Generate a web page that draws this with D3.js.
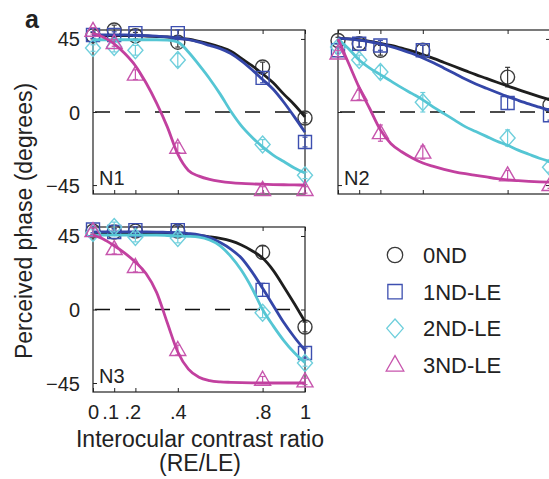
<!DOCTYPE html>
<html><head><meta charset="utf-8">
<script src="https://cdn.jsdelivr.net/npm/d3@7"></script>
<style>
body{margin:0;background:#fff}
svg{display:block}
text{font-family:"Liberation Sans",Arial,Helvetica,sans-serif;fill:#222}
</style>
</head><body>
<svg id="chart" width="549" height="479"></svg>
<script>
// ---------- DATA ----------
const seriesNames = ["0ND", "1ND-LE", "2ND-LE", "3ND-LE"];
const xValues = [0, 0.1, 0.2, 0.4, 0.8, 1];
const fitX = [0,0.05,0.1,0.15,0.2,0.25,0.3,0.35,0.4,0.45,0.5,0.55,0.6,0.65,0.7,0.75,0.8,0.85,0.9,0.95,1];
const xTickValues = [0, 0.1, 0.2, 0.4, 0.8, 1];
const xTickLabels = ["0", ".1", ".2", ".4", ".8", "1"];
const yTickValues = [-45, 0, 45];
const yTickLabels = ["\u221245", "0", "45"];
const panelNames = ["N1", "N2", "N3"];

// N1 measured points (degrees)
const n1Pts0ND = [47, 50.5, 47, 43, 27.7, -3.7];
const n1Pts1ND = [47.4, 47.4, 48.6, 48.6, 21, -18.5];
const n1Pts2ND = [39.4, 40, 38, 32, -20, -39];
const n1Pts3ND = [50, 42.5, 23, -22, -48, -48];
const n1Err0ND = [2, 3, 2, 3, 3, 3];
const n1Err1ND = [2, 2, 2, 2, 3, 3];
const n1Err2ND = [2, 3, 3, 4, 3, 2];
const n1Err3ND = [2, 2, 3, 3, 2, 2];
// N1 fitted curves (degrees at fitX)
const n1Fit0ND = [47,47,47,47,47,46.8,46.5,46.2,45.7,44.8,43.5,42,40,37.5,33,28.5,23.5,18,11,4.5,-3];
const n1Fit1ND = [47.5,47.5,47.5,47.5,47.3,47,46.7,46.3,45.5,44.5,43,41,39,36,31.5,26,20,14,6,-3,-12.5];
const n1Fit2ND = [44.5,44.5,44.5,44.5,44.5,44.5,44.5,44.2,43,37,29,20.5,11,0.5,-8.5,-15.5,-21.5,-26.5,-30.5,-34.5,-37.5];
const n1Fit3ND = [48.5,46,42,36,28.5,18,5.5,-9,-26,-36,-39.5,-41.5,-42.7,-43.5,-44,-44.3,-44.5,-44.7,-44.8,-44.9,-45];

// N2 measured points
const n2Pts0ND = [44, 42, 38, 38, 21.5, 4.3];
const n2Pts1ND = [38, 42, 41, 38, 5.5, -2];
const n2Pts2ND = [40, 32, 24.6, 6, -16, -34];
const n2Pts3ND = [36, 10.5, -13, -25, -39, -45];
const n2Err0ND = [2, 2, 3, 3, 6, 3];
const n2Err1ND = [2, 2, 3, 3, 4, 3];
const n2Err2ND = [3, 3, 4, 6, 5, 3];
const n2Err3ND = [2, 3, 5, 4, 3, 2];
// N2 fitted curves
const n2Fit0ND = [45.5,45,44.5,43.5,42.3,41,39.3,37.5,35.3,33,30.5,28,25.5,23,20.7,18.3,16,13.8,11.6,9.5,7.5];
const n2Fit1ND = [45.5,45,44.2,43.2,42,40.3,38.3,36,33.3,30.3,27,23.7,20.3,17.3,14.6,12,9.5,7.2,5,3,1];
const n2Fit2ND = [45,39,32,27,23,19,15,11.3,7.5,3,-1,-5,-9,-12,-15,-18,-20.5,-23.5,-26,-28.5,-30.5];
const n2Fit3ND = [45,30,15,2,-11,-19.5,-24.5,-28.3,-31.4,-33.5,-35.3,-36.8,-38,-39,-40,-41,-41.8,-42.3,-42.7,-43,-43.2];

// N3 measured points
const n3Pts0ND = [48, 47.4, 48, 48, 35, -10.7];
const n3Pts1ND = [49, 47.4, 48.6, 48.6, 12, -26.6];
const n3Pts2ND = [46.8, 50.5, 44.4, 43.8, -2, -32.7];
const n3Pts3ND = [48, 37, 26, -24.8, -43, -44];
const n3Err0ND = [2, 2, 2, 3, 4, 3];
const n3Err1ND = [2, 2, 2, 3, 4, 3];
const n3Err2ND = [2, 3, 3, 3, 3, 2];
const n3Err3ND = [2, 3, 3, 3, 2, 2];
// N3 fitted curves
const n3Fit0ND = [47,47,47,47,47,47,47,46.8,46.5,46,45.3,44.5,43.5,42,39.5,36,31.5,24,14,3.5,-7.5];
const n3Fit1ND = [47.5,47.5,47.5,47.5,47.5,47.5,47.4,47.2,47,46.5,45.7,44,41,37,31.5,23,13,2.5,-8,-17,-25];
const n3Fit2ND = [45.5,45.5,45.5,45.5,45.5,45.5,45.5,45.3,45,44.8,44.3,42.5,39,32.5,24,13,0,-10,-19,-26.5,-32.5];
const n3Fit3ND = [45.6,43,39,34.5,29,22,10.5,-8,-26,-36.5,-41.5,-43.5,-44.3,-44.6,-44.8,-44.9,-45,-45,-45,-45,-45];

// ---------- STYLE / LAYOUT ----------
const lineColors   = ["#1e1e1e", "#3446a8", "#55c6d4", "#c2409f"];
const markerColors = ["#3a3a3a", "#3d4fb0", "#6fcfdc", "#c755ad"];
const shapes = ["circle", "square", "diamond", "triangle"];
const tickLabelShift = [0, -4, -3, 0, 0, 0];

const panels = [
  {name: panelNames[0], x0: 93,  x1: 305, y0: 30,  y1: 194, yLab: true,  xLab: false,
   pts: [n1Pts0ND, n1Pts1ND, n1Pts2ND, n1Pts3ND], err: [n1Err0ND, n1Err1ND, n1Err2ND, n1Err3ND],
   fit: [n1Fit0ND, n1Fit1ND, n1Fit2ND, n1Fit3ND]},
  {name: panelNames[1], x0: 338, x1: 550, y0: 30,  y1: 194, yLab: false, xLab: false,
   pts: [n2Pts0ND, n2Pts1ND, n2Pts2ND, n2Pts3ND], err: [n2Err0ND, n2Err1ND, n2Err2ND, n2Err3ND],
   fit: [n2Fit0ND, n2Fit1ND, n2Fit2ND, n2Fit3ND]},
  {name: panelNames[2], x0: 93,  x1: 305, y0: 227, y1: 392, yLab: true,  xLab: true,
   pts: [n3Pts0ND, n3Pts1ND, n3Pts2ND, n3Pts3ND], err: [n3Err0ND, n3Err1ND, n3Err2ND, n3Err3ND],
   fit: [n3Fit0ND, n3Fit1ND, n3Fit2ND, n3Fit3ND]}
];

function shapePath(type, s) {
  const p = d3.path();
  if (type === "circle") { p.arc(0, 0, 7 * s, 0, 2 * Math.PI); }
  else if (type === "square") { const h = 6.5 * s; p.rect(-h, -h, 2 * h, 2 * h); }
  else if (type === "diamond") { const w = 7.5 * s, h = 8.5 * s; p.moveTo(0, -h); p.lineTo(w, 0); p.lineTo(0, h); p.lineTo(-w, 0); p.closePath(); }
  else { const w = 8 * s; p.moveTo(0, -8.5 * s); p.lineTo(w, 5.5 * s); p.lineTo(-w, 5.5 * s); p.closePath(); }
  return p.toString();
}

const svg = d3.select("#chart");

panels.forEach(P => {
  const x = d3.scaleLinear().domain([0, 1]).range([P.x0, P.x1]);
  const y = d3.scaleLinear().domain([-50.5, 50.5]).range([P.y1, P.y0]);
  const g = svg.append("g");

  // zero dashed line
  g.append("line").attr("x1", P.x0 + 2).attr("x2", P.x1).attr("y1", y(0)).attr("y2", y(0))
    .attr("stroke", "#111").attr("stroke-width", 1.6).attr("stroke-dasharray", "15,15");

  // axes (inward ticks, all four sides)
  const tk = 4;
  const axB = d3.axisBottom(x).tickValues(xTickValues).tickSize(-tk).tickFormat((d, i) => P.xLab ? xTickLabels[i] : "");
  const axT = d3.axisTop(x).tickValues(xTickValues).tickSize(-tk).tickFormat("");
  const axL = d3.axisLeft(y).tickValues(yTickValues).tickSize(-tk).tickFormat((d, i) => P.yLab ? yTickLabels[i] : "");
  const axR = d3.axisRight(y).tickValues(yTickValues).tickSize(-tk).tickFormat("");
  const style = sel => {
    sel.select(".domain").remove();
    sel.selectAll("line").attr("stroke", "#222").attr("stroke-width", 1);
    sel.selectAll("text").attr("font-size", 20).attr("fill", "#222")
      .attr("font-family", '"Liberation Sans",Arial,sans-serif');
  };
  g.append("g").attr("transform", `translate(0,${P.y1})`).call(axB).call(style)
    .selectAll("text").attr("dy", null).attr("y", 27).attr("dx", (d, i) => tickLabelShift[i]);
  g.append("g").attr("transform", `translate(0,${P.y0})`).call(axT).call(style);
  g.append("g").attr("transform", `translate(${P.x0},0)`).call(axL).call(style)
    .selectAll("text").attr("x", -13).attr("dy", "0.35em");
  g.append("g").attr("transform", `translate(${P.x1},0)`).call(axR).call(style);

  // frame
  g.append("rect").attr("x", P.x0).attr("y", P.y0).attr("width", P.x1 - P.x0).attr("height", P.y1 - P.y0)
    .attr("fill", "none").attr("stroke", "#222").attr("stroke-width", 1.2);

  // panel label
  g.append("text").attr("x", P.x0 + 6).attr("y", P.y1 - 9).attr("font-size", 20).text(P.name);

  const line = d3.line().x((d, i) => x(fitX[i])).y(d => y(d)).curve(d3.curveMonotoneX);

  seriesNames.forEach((nm, si) => {
    const sg = g.append("g");
    P.pts[si].forEach((v, i) => {
      const cx = x(xValues[i]), cy = y(v);
      sg.append("path").attr("d", shapePath(shapes[si], 1)).attr("transform", `translate(${cx},${cy})`)
        .attr("fill", "none").attr("stroke", markerColors[si]).attr("stroke-width", 1.4);
      const e = P.err[si][i];
      const ey0 = y(v - e), ey1 = y(v + e);
      sg.append("line").attr("x1", cx).attr("x2", cx).attr("y1", ey0).attr("y2", ey1)
        .attr("stroke", markerColors[si]).attr("stroke-width", 1.2);
      [ey0, ey1].forEach(yy => sg.append("line").attr("x1", cx - 2.5).attr("x2", cx + 2.5).attr("y1", yy).attr("y2", yy)
        .attr("stroke", markerColors[si]).attr("stroke-width", 1.2));
    });
    sg.append("path").datum(P.fit[si]).attr("d", line).attr("fill", "none")
      .attr("stroke", lineColors[si]).attr("stroke-width", 2.8);
  });
});

// figure label
svg.append("text").attr("x", 25).attr("y", 28).attr("font-size", 25).attr("font-weight", "bold").text("a");

// y label
svg.append("text").attr("transform", "translate(32,221) rotate(-90)").attr("text-anchor", "middle")
  .attr("font-size", 23).text("Perceived phase (degrees)");

// x label
svg.append("text").attr("x", 200).attr("y", 447).attr("text-anchor", "middle").attr("font-size", 23)
  .text("Interocular contrast ratio");
svg.append("text").attr("x", 200).attr("y", 471).attr("text-anchor", "middle").attr("font-size", 23)
  .text("(RE/LE)");

// legend
const legY = d3.scaleLinear().domain([0, 3]).range([255, 365]);
seriesNames.forEach((nm, i) => {
  svg.append("path").attr("d", shapePath(shapes[i], 1.1)).attr("transform", `translate(395,${legY(i)})`)
    .attr("fill", "none").attr("stroke", markerColors[i]).attr("stroke-width", 1.3);
  svg.append("text").attr("x", 423).attr("y", legY(i)).attr("dy", "0.36em").attr("font-size", 22).text(nm);
});
</script>
</body></html>
